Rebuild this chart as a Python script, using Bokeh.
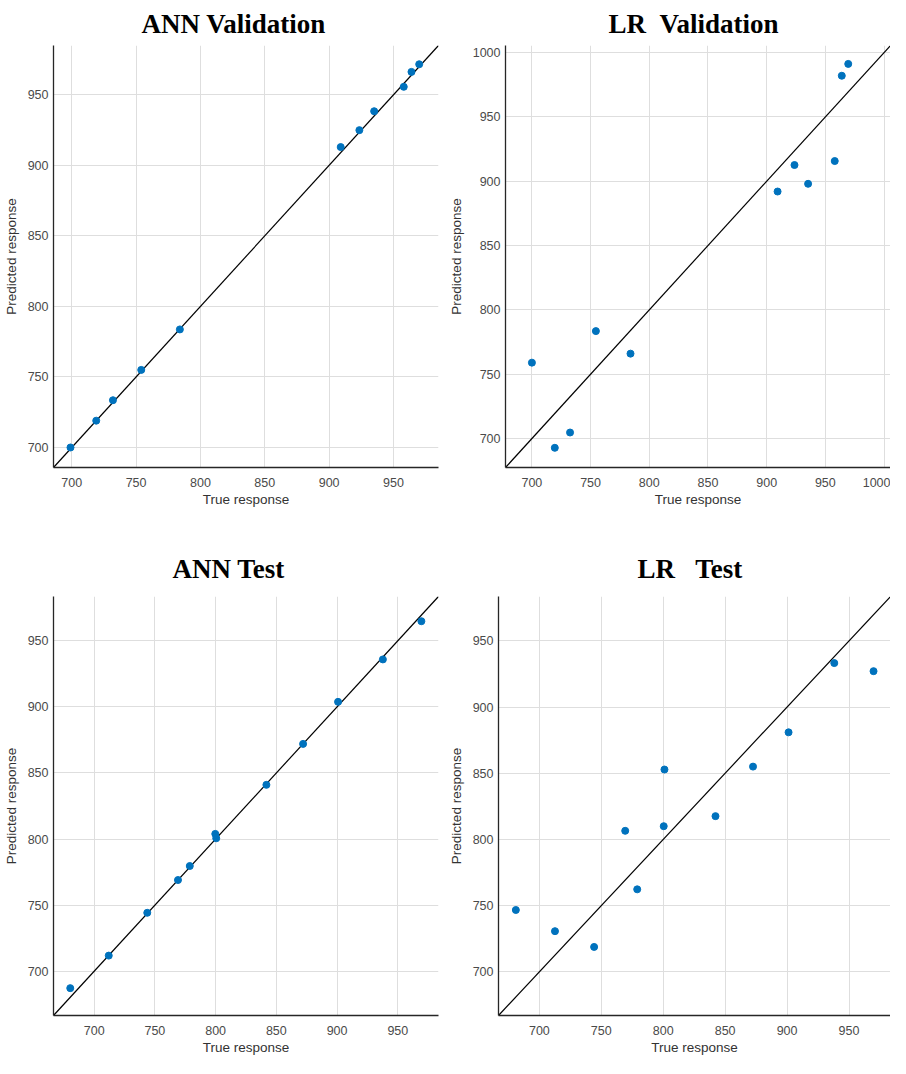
from bokeh.plotting import figure
from bokeh.layouts import column, row
from bokeh.models import FixedTicker, Range1d
from bokeh.embed import file_html
from bokeh.resources import INLINE

# ---------------- data ----------------
ann_val_true = [699, 719, 732, 754, 784, 909, 923.5, 935, 958, 964, 970]
ann_val_pred = [700, 719, 733.5, 755, 783.7, 913, 925, 938.4, 955.7, 966.3, 971.7]

lr_val_true = [700, 719.5, 732.5, 754.5, 784, 909.3, 923.7, 935.3, 958, 964, 969.5]
lr_val_pred = [759, 692.8, 704.7, 783.5, 766, 892, 912.6, 898, 915.7, 982, 991.2]

ann_test_true = [680.3, 712, 743.7, 769, 778.7, 799.7, 800.5, 841.8, 872, 900.8, 937.7, 969.4]
ann_test_pred = [687.2, 711.8, 744.2, 769, 779.6, 803.9, 800.6, 841, 872, 903.8, 935.9, 964.8]

lr_test_true = [681, 712.6, 744.2, 769.3, 779, 801, 800.4, 842.2, 872.5, 901.2, 938.1, 969.8]
lr_test_pred = [746.7, 730.7, 718.8, 806.5, 762.3, 852.8, 810, 817.6, 855, 880.9, 933.2, 927.1]

titles = ["ANN Validation", "LR\u00a0\u00a0Validation", "ANN Test", "LR\u00a0\u00a0\u00a0Test"]
limits = [(685.8, 985.0), (677.5, 1005.5), (666.5, 983.5), (667.0, 983.5)]
ticks_a = [700, 750, 800, 850, 900, 950]
ticks_b = [700, 750, 800, 850, 900, 950, 1000]
x_label = "True response"
y_label = "Predicted response"

BLUE = "#0072BD"
AX = "#262626"
TICK_TXT = "#4a4a4a"
GRID = "#dedede"


def make_panel(title, xs, ys, lim, ticks, width, height, bl, br, bt, bb, toff, tstand):
    p = figure(width=width, height=height, output_backend="svg", toolbar_location=None,
               x_range=Range1d(*lim), y_range=Range1d(*lim),
               min_border_left=bl, min_border_right=br, min_border_top=bt, min_border_bottom=bb)
    p.title.text = title
    p.title.text_font = "Liberation Serif"
    p.title.text_font_style = "bold"
    p.title.text_font_size = "27px"
    p.title.text_color = "black"
    p.title.align = "left"
    p.title.offset = toff
    p.title.standoff = tstand
    p.outline_line_color = None
    p.background_fill_color = "white"
    p.border_fill_color = "white"
    for ax in (p.xaxis[0], p.yaxis[0]):
        ax.ticker = FixedTicker(ticks=ticks)
        ax.axis_line_color = AX
        ax.axis_line_width = 1.3
        ax.major_tick_line_color = None
        ax.minor_tick_line_color = None
        ax.major_tick_out = 0
        ax.major_tick_in = 0
        ax.minor_tick_out = 0
        ax.minor_tick_in = 0
        ax.major_label_text_font = "Liberation Sans"
        ax.major_label_text_font_size = "12.5px"
        ax.major_label_text_color = TICK_TXT
        ax.axis_label_text_font = "Liberation Sans"
        ax.axis_label_text_font_size = "13.5px"
        ax.axis_label_text_font_style = "normal"
        ax.axis_label_text_color = "#333333"
    p.xaxis.axis_label = x_label
    p.yaxis.axis_label = y_label
    p.xaxis.major_label_standoff = 10
    p.xaxis.axis_label_standoff = 2
    p.yaxis.major_label_standoff = 5
    p.yaxis.axis_label_standoff = 6
    p.grid.grid_line_color = GRID
    p.grid.grid_line_width = 1
    p.line(x=[lim[0], lim[1]], y=[lim[0], lim[1]], line_color="black", line_width=1.2)
    p.scatter(xs, ys, size=7, marker="circle", fill_color=BLUE, line_color=BLUE)
    return p


p1 = make_panel(titles[0], ann_val_true, ann_val_pred, limits[0], ticks_a, 445, 532, 44, 7, 37, 65, 88, 13)
p2 = make_panel(titles[1], lr_val_true, lr_val_pred, limits[1], ticks_b, 445, 532, 52, 0, 37, 65, 103, 13)
p3 = make_panel(titles[2], ann_test_true, ann_test_pred, limits[2], ticks_a, 445, 525, 44, 7, 64, 35, 119, 26)
p4 = make_panel(titles[3], lr_test_true, lr_test_pred, limits[3], ticks_a, 445, 525, 51, 0, 64, 35, 139, 26)

layout = column(row(p1, p2), row(p3, p4))

with open("out.html", "w") as f:
    f.write(file_html(layout, INLINE))
